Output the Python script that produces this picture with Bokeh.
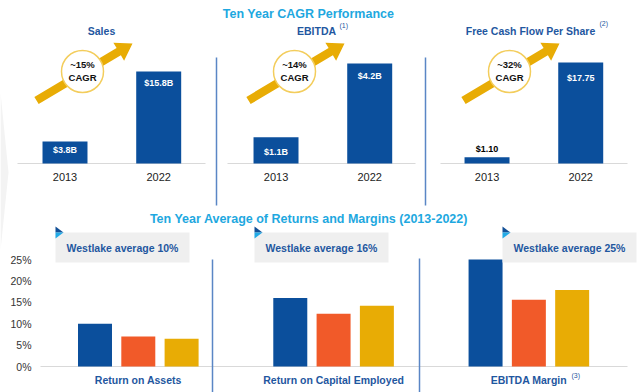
import math
from bokeh.plotting import figure
from bokeh.models import Range1d
from bokeh.core.properties import value
from bokeh.embed import file_html
from bokeh.resources import INLINE

# ---- data -------------------------------------------------------------
years = ["2013", "2022"]
sales = [3.8, 15.8]                 # $B
sales_labels = ["$3.8B", "$15.8B"]
ebitda = [1.1, 4.2]                 # $B
ebitda_labels = ["$1.1B", "$4.2B"]
fcf_per_share = [1.10, 17.75]       # $
fcf_labels = ["$1.10", "$17.75"]
cagr = ["~15%", "~14%", "~32%"]

metrics = ["Return on Assets", "Return on Capital Employed", "EBITDA Margin"]
westlake_avg = [10, 16, 25]         # %
series_blue = [10.0, 16.0, 25.0]
series_orange = [7.0, 12.3, 15.6]
series_yellow = [6.5, 14.2, 17.9]
y_ticks = [0, 5, 10, 15, 20, 25]

# ---- styling ----------------------------------------------------------
FONT = value("Liberation Sans")
BLUE = "#0b4f9c"
ORANGE = "#f15a29"
YELLOW = "#e8ac05"
CYAN = "#1ea8e0"
NAVY = "#1f57a0"
RULE = "#d9d9d9"
SEP = "#5a86c5"

W, H = 640, 392
p = figure(width=W, height=H, x_range=Range1d(0, W), y_range=Range1d(H, 0),
           output_backend="svg", toolbar_location=None, min_border=0,
           x_axis_type=None, y_axis_type=None)
p.grid.visible = False
p.outline_line_color = None
p.background_fill_color = "white"
p.border_fill_color = "white"

# top row: bar slots (one unit = gap between the two years of a panel)
TOP_UNIT = 93.7
TOP_STRIDE = 2.252
top_x0 = -64.5 / TOP_UNIT
p.extra_x_ranges["tx"] = Range1d(top_x0, top_x0 + W / TOP_UNIT)


def value_range(px_per_unit, base_from_bottom=229):
    return Range1d(-base_from_bottom / px_per_unit, (H - base_from_bottom) / px_per_unit)


p.extra_y_ranges["sales"] = value_range(5.82)
p.extra_y_ranges["ebitda"] = value_range(23.8)
p.extra_y_ranges["fcf"] = value_range(5.69)

# bottom row: percentage bars
BOT_UNIT = 43.3
BOT_STRIDE = 4.51
bot_x0 = -94.5 / BOT_UNIT
p.extra_x_ranges["bx"] = Range1d(bot_x0, bot_x0 + W / BOT_UNIT)
PCT_PX = 4.28
p.extra_y_ranges["by"] = Range1d(-26 / PCT_PX, (H - 26) / PCT_PX)


def label(x, y, txt, size, color, bold=True, align="center", **kw):
    p.text(x=x, y=y, text=txt, text_font=FONT, text_font_size=size,
           text_font_style="bold" if bold else "normal", text_color=color,
           text_align=align, text_baseline="middle", **kw)


def arrow_shape(x0, y0, x1, y1, shaft=4.2, head_len=16, head_half=10.5):
    dx, dy = x1 - x0, y1 - y0
    L = math.hypot(dx, dy)
    ux, uy = dx / L, dy / L
    nx, ny = -uy, ux
    bx, by = x1 - ux * head_len, y1 - uy * head_len
    xs = [x0 + nx * shaft, bx + nx * shaft, bx + nx * head_half, x1,
          bx - nx * head_half, bx - nx * shaft, x0 - nx * shaft]
    ys = [y0 + ny * shaft, by + ny * shaft, by + ny * head_half, y1,
          by - ny * head_half, by - ny * shaft, y0 - ny * shaft]
    return xs, ys


# faint page decoration on the left edge
p.patch([0, 8, 0], [92, 172, 250], fill_color="#f3f3f3", line_color=None)

# ---- top row: ten year CAGR -------------------------------------------
label([308], [13], ["Ten Year CAGR Performance"], "12.5px", CYAN)

panels = [
    ("sales", sales, sales_labels, ["white", "white"], [9, 11]),
    ("ebitda", ebitda, ebitda_labels, ["white", "white"], [15, 12]),
    ("fcf", fcf_per_share, fcf_labels, ["black", "white"], [-8, 15]),
]
axis_spans = [(17, 205), (227, 415), (440, 627)]
circle_x = [82, 294, 509]

for g, (rng, vals, texts, colors, offs) in enumerate(panels):
    xs = [g * TOP_STRIDE + i for i in range(len(years))]
    x0, x1 = axis_spans[g]
    p.segment(x0=[x0], x1=[x1], y0=[0], y1=[0], y_range_name=rng,
              line_color=RULE, line_width=1)
    p.vbar(x=xs, top=vals, bottom=0, width=0.48, x_range_name="tx",
           y_range_name=rng, fill_color=BLUE, line_color=None)
    label(xs, vals, texts, "9px", colors, x_range_name="tx",
          y_range_name=rng, y_offset=offs)
    label(xs, [176, 176], years, "11px", "#222222", bold=False,
          x_range_name="tx")

    # growth arrow with CAGR badge
    cx = circle_x[g]
    ax, ay = arrow_shape(cx - 46, 100, cx + 50, 43)
    p.patch(ax, ay, fill_color=YELLOW, line_color=None)
    p.scatter([cx], [71], size=42, marker="circle", fill_color="white",
              line_color="#f3cd5c", line_width=1.5)
    label([cx, cx], [64, 76.5], [cagr[g], "CAGR"], "9.5px", "#111111")

# panel headings
label([101], [30], ["Sales"], "10.5px", NAVY)
label([316], [30], ["EBITDA"], "10.5px", NAVY)
label([339], [25], ["(1)"], "7px", NAVY, bold=False, align="left")
label([530], [30], ["Free Cash Flow Per Share"], "10.5px", NAVY)
label([599], [23], ["(2)"], "7px", NAVY, bold=False, align="left")

# panel separators
p.segment(x0=[216, 425], x1=[216, 425], y0=[57, 57], y1=[205, 205],
          line_color=SEP, line_width=1.5)

# ---- bottom row: ten year averages ------------------------------------
label([308.5], [218], ["Ten Year Average of Returns and Margins (2013-2022)"],
      "12.5px", CYAN)

p.segment(x0=[40], x1=[627], y0=[0], y1=[0], y_range_name="by",
          line_color=RULE, line_width=1)

for j, (vals, col) in enumerate([(series_blue, BLUE), (series_orange, ORANGE),
                                 (series_yellow, YELLOW)]):
    xs = [g * BOT_STRIDE + j for g in range(len(metrics))]
    p.vbar(x=xs, top=vals, bottom=0, width=0.785, x_range_name="bx",
           y_range_name="by", fill_color=col, line_color=None)

# callout boxes sit above the bars
box_left = [55, 254, 502]
box_w = 134
for g, bl in enumerate(box_left):
    p.quad(left=[bl], right=[bl + box_w], top=[232], bottom=[262],
           fill_color="#efefef", line_color=None)
    p.patch([bl, bl + 8, bl], [226, 232, 232], fill_color="#124f96", line_color=None)
    p.patch([bl, bl + 8, bl], [232, 232, 238], fill_color="#22aae6", line_color=None)
    label([bl + box_w / 2], [247.5], [f"Westlake average {westlake_avg[g]}%"],
          "10.5px", NAVY)

label([31] * len(y_ticks), y_ticks, [f"{t}%" for t in y_ticks], "10.5px",
      "#333333", bold=False, align="right", y_range_name="by")

mid = [g * BOT_STRIDE + 1 for g in range(len(metrics))]
label(mid, [379] * len(metrics), metrics, "10.5px", NAVY, x_range_name="bx")
label([571], [375], ["(3)"], "7px", NAVY, bold=False, align="left")

p.segment(x0=[212, 419], x1=[212, 419], y0=[259, 258], y1=[392, 392],
          line_color=SEP, line_width=1.5)

open("out.html", "w").write(file_html(p, INLINE))
